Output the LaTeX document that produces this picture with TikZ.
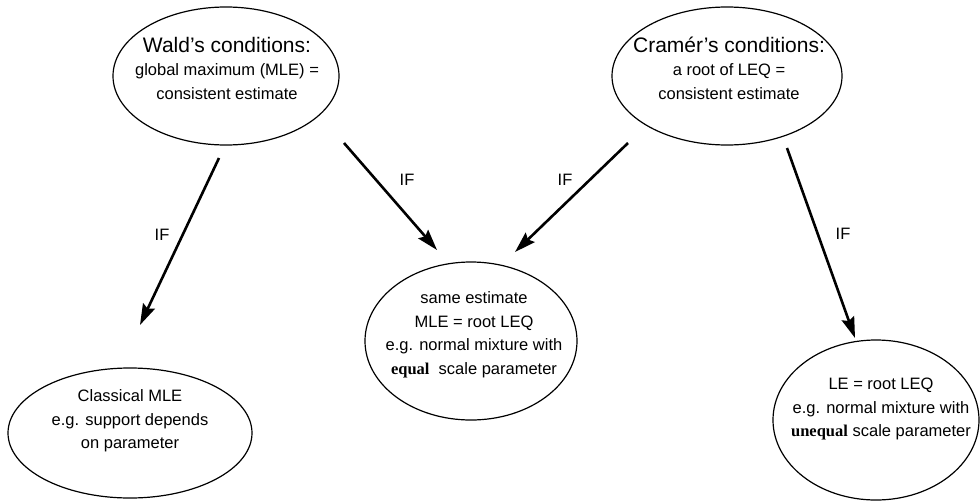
\documentclass[tikz,border=0pt]{standalone}
\usepackage{fontspec}
\setmainfont{Liberation Sans}
\newfontfamily\timesfont{Liberation Serif}
\usetikzlibrary{shapes.geometric,arrows.meta}

\begin{document}
\begin{tikzpicture}[x=1pt,y=-1pt,>={Stealth[length=21pt,width=13pt,inset=3pt]}]
\tikzstyle{oval}=[draw,ellipse,line width=1.2pt,inner sep=0pt];
\tikzstyle{txt}=[align=center,font=\fontsize{16.5}{23.5}\selectfont,inner sep=0pt];
\tikzstyle{ifarrow}=[->,line width=2.6pt];
\tikzstyle{iflabel}=[font=\fontsize{16.5}{20}\selectfont,inner sep=0pt];
\useasboundingbox (0,0) rectangle (980,501);
% draw the two condition ovals
%   nodes
    \node[oval,minimum width=226pt,minimum height=138pt] (wald) at (226,76) {};
    \node[oval,minimum width=230pt,minimum height=138pt] (cramer) at (727,76) {};
    \node[txt] (waldtxt) at (227,68) {{\fontsize{21}{24}\selectfont Wald's conditions:}\\global maximum (MLE) =\\consistent estimate};
    \node[txt] (cramertxt) at (729,68) {{\fontsize{21}{24}\selectfont Cramér's conditions:}\\a root of LEQ =\\consistent estimate};
% draw the three result ovals
    \node[oval,minimum width=244pt,minimum height=130pt] (classical) at (130,433) {};
    \node[oval,minimum width=212pt,minimum height=158pt] (same) at (471,341) {};
    \node[oval,minimum width=206pt,minimum height=160pt] (unequal) at (876,420) {};
    \node[txt] (classicaltxt) at (130,421) {Classical MLE\\e.g. support depends\\on parameter};
    \node[txt] (sametxt) at (474,335) {same estimate\\MLE = root LEQ\\e.g. normal mixture with\\{\timesfont\bfseries equal}\ \ scale parameter};
    \node[txt] (unequaltxt) at (881,409) {LE = root LEQ\\e.g. normal mixture with\\{\timesfont\bfseries unequal} scale parameter};
%   arrow ends
    \coordinate (w1) at (219,158);
    \coordinate (w2) at (344,143);
    \coordinate (c1) at (628,143);
    \coordinate (c2) at (787,148);
    \coordinate (t1) at (140,325);
    \coordinate (t2) at (437,250);
    \coordinate (t3) at (515,252);
    \coordinate (t4) at (855,338);
%   edges
    \draw[ifarrow] (w1) -- (t1);
    \draw[ifarrow] (w2) -- (t2);
    \draw[ifarrow] (c1) -- (t3);
    \draw[ifarrow] (c2) -- (t4);
    \node[iflabel] (if1) at (162,235) {IF};
    \node[iflabel] (if2) at (407,180) {IF};
    \node[iflabel] (if3) at (565,180) {IF};
    \node[iflabel] (if4) at (843,234) {IF};
\end{tikzpicture}
\end{document}
